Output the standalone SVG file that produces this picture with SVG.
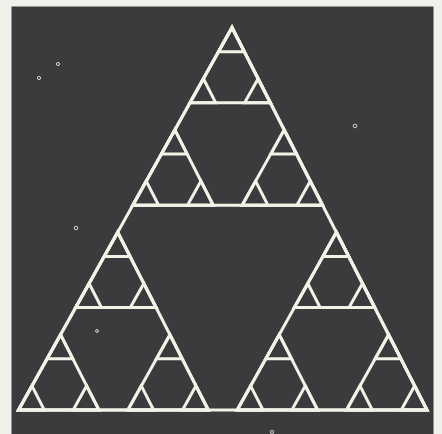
<svg xmlns="http://www.w3.org/2000/svg" width="442" height="434" viewBox="0 0 442 434">
<style>
.ln{fill:none;stroke:#f4f2e6;stroke-width:3;stroke-linejoin:miter;vector-effect:non-scaling-stroke}
.dust{fill:none;stroke:#d8d6cc;stroke-width:1}
</style>
<rect x="0" y="0" width="442" height="434" fill="#f1f0ea"/>
<rect x="11.5" y="6.5" width="422" height="428" fill="#3b3b3d"/>
<g id="dust">
<circle class="dust" cx="58" cy="64" r="1.6"/>
<circle class="dust" cx="39" cy="78" r="1.6"/>
<circle class="dust" cx="355" cy="126" r="1.8"/>
<circle class="dust" cx="76" cy="228" r="1.8"/>
<circle class="dust" cx="97" cy="331" r="1.4"/>
<circle class="dust" cx="272" cy="432" r="1.6"/>
</g>
<g id="fractal" transform="matrix(0.20425 0 -0.00925 0.3825 232 27.5)">
<path id="level0" class="ln" d="M0 0l-1000 1000 2000 0z"/>
<path id="level1" class="ln" d="M0 0l-464.65 464.65 929.3 0z M-535.35 535.35l-464.65 464.65 929.3 0z M535.35 535.35l-464.65 464.65 929.3 0z"/>
<path id="level2" class="ln" d="M0 0l-196.98 196.98 393.95 0z M-267.68 267.68l-196.98 196.98 393.95 0z M267.68 267.68l-196.98 196.98 393.95 0z M-535.35 535.35l-196.98 196.98 393.95 0z M-803.03 803.03l-196.98 196.98 393.95 0z M-267.68 803.03l-196.98 196.98 393.95 0z M535.35 535.35l-196.98 196.98 393.95 0z M267.68 803.03l-196.98 196.98 393.95 0z M803.03 803.03l-196.98 196.98 393.95 0z"/>
<path id="level3" class="ln" d="M0 0l-63.14 63.14 126.28 0z M-133.84 133.84l-63.14 63.14 126.28 0z M133.84 133.84l-63.14 63.14 126.28 0z M-267.68 267.68l-63.14 63.14 126.28 0z M-401.51 401.51l-63.14 63.14 126.28 0z M-133.84 401.51l-63.14 63.14 126.28 0z M267.68 267.68l-63.14 63.14 126.28 0z M133.84 401.51l-63.14 63.14 126.28 0z M401.51 401.51l-63.14 63.14 126.28 0z M-535.35 535.35l-63.14 63.14 126.28 0z M-669.19 669.19l-63.14 63.14 126.28 0z M-401.51 669.19l-63.14 63.14 126.28 0z M-803.03 803.03l-63.14 63.14 126.28 0z M-936.86 936.86l-63.14 63.14 126.28 0z M-669.19 936.86l-63.14 63.14 126.28 0z M-267.68 803.03l-63.14 63.14 126.28 0z M-401.51 936.86l-63.14 63.14 126.28 0z M-133.84 936.86l-63.14 63.14 126.28 0z M535.35 535.35l-63.14 63.14 126.28 0z M401.51 669.19l-63.14 63.14 126.28 0z M669.19 669.19l-63.14 63.14 126.28 0z M267.68 803.03l-63.14 63.14 126.28 0z M133.84 936.86l-63.14 63.14 126.28 0z M401.51 936.86l-63.14 63.14 126.28 0z M803.03 803.03l-63.14 63.14 126.28 0z M669.19 936.86l-63.14 63.14 126.28 0z M936.86 936.86l-63.14 63.14 126.28 0z"/>
</g>
</svg>
